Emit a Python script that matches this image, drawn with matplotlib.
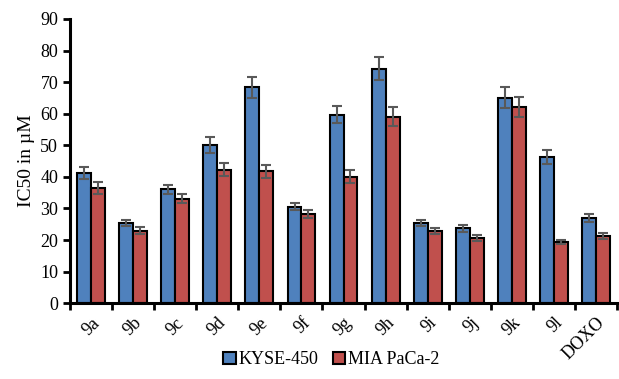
import matplotlib.pyplot as plt
import numpy as np

plt.rcParams['font.family'] = ['Liberation Serif', 'DejaVu Serif']

compounds = ['9a', '9b', '9c', '9d', '9e', '9f', '9g', '9h', '9i', '9j', '9k', '9l', 'DOXO']
kyse = [41.2, 25.5, 36.0, 50.1, 68.3, 30.6, 59.7, 74.3, 25.3, 23.7, 65.1, 46.3, 27.0]
kyse_err = [2.0, 1.0, 1.5, 2.5, 3.3, 1.2, 2.8, 3.6, 1.0, 1.1, 3.2, 2.2, 1.3]
mia = [36.5, 23.0, 33.1, 42.3, 41.7, 28.2, 40.1, 59.1, 22.8, 20.6, 62.1, 19.3, 21.2]
mia_err = [1.8, 1.0, 1.5, 2.0, 2.2, 1.2, 2.0, 2.9, 0.9, 0.9, 3.2, 0.7, 0.9]

fig = plt.figure(figsize=(6.19, 3.79), dpi=100)
ax = fig.add_axes([0.113, 0.2, 0.884, 0.75])

x = np.arange(len(compounds))
w = 0.33
err_kw = dict(ecolor='#595959', elinewidth=1.5, capsize=3.5, capthick=1.5)
ax.bar(x - w / 2, kyse, w, yerr=kyse_err, color='#4F81BD', edgecolor='black',
       linewidth=1.5, error_kw=err_kw, label='KYSE-450')
ax.bar(x + w / 2, mia, w, yerr=mia_err, color='#C0504D', edgecolor='black',
       linewidth=1.5, error_kw=err_kw, label='MIA PaCa-2')

ax.set_xlim(-0.5, len(compounds) - 0.5)
ax.set_ylim(0, 90)
ax.set_yticks(range(0, 91, 10))
ax.set_xticks(x)
ax.set_xticklabels(compounds, rotation=45, ha='right', rotation_mode='anchor', fontsize=13)
ax.tick_params(axis='x', which='major', length=0, pad=8)
ax.set_xticks(np.arange(-0.5, len(compounds), 1), minor=True)
ax.tick_params(axis='x', which='minor', length=5, width=2, direction='out')
ax.tick_params(axis='y', length=5, width=2, labelsize=13)
ax.set_ylabel('IC50 in \u00b5M', fontsize=14)

for s in ['top', 'right']:
    ax.spines[s].set_visible(False)
for s in ['left', 'bottom']:
    ax.spines[s].set_linewidth(2.2)

fig.legend(loc='lower center', bbox_to_anchor=(0.535, -0.015), ncol=2, frameon=False,
           fontsize=13, handlelength=0.7, handleheight=0.7, handletextpad=0.15,
           columnspacing=0.8)

fig.savefig('out.png', dpi=100)
